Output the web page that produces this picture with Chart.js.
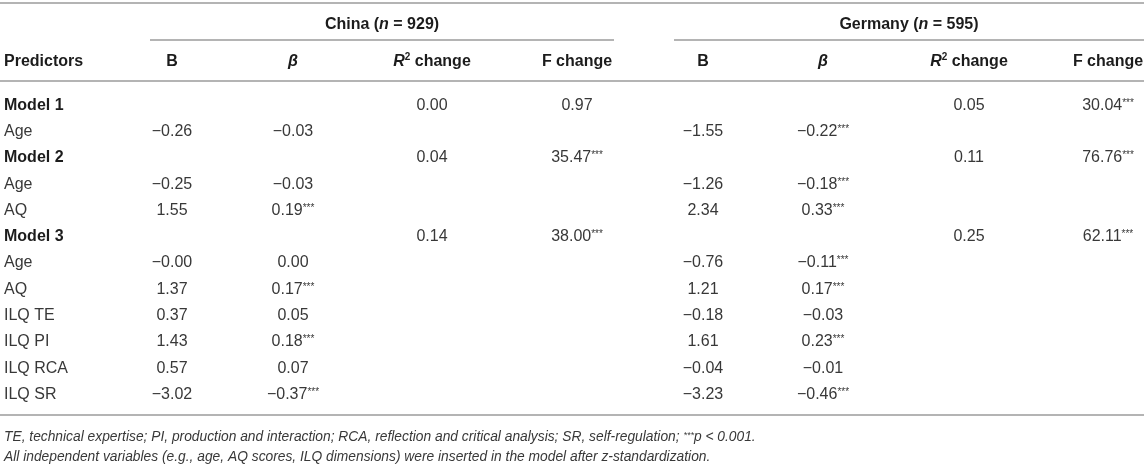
<!DOCTYPE html>
<html>
<head>
<meta charset="utf-8">
<script src="https://cdn.jsdelivr.net/npm/chart.js@4.4.1/dist/chart.umd.min.js"></script>
<style>
    html, body { margin: 0; padding: 0; background: #fff; }
    #wrap { width: 1144px; height: 465px; }
</style>
</head>
<body>
<div id="wrap"><canvas id="regTable" width="1144" height="465"></canvas></div>
<script>
// Table data (row order follows the predictors list)
const predictors = ['Model 1', 'Age', 'Model 2', 'Age', 'AQ', 'Model 3', 'Age', 'AQ', 'ILQ TE', 'ILQ PI', 'ILQ RCA', 'ILQ SR'];
const modelRows = [0, 2, 5];

const chinaB = [null, -0.26, null, -0.25, 1.55, null, -0, 1.37, 0.37, 1.43, 0.57, -3.02];
const chinaBeta = [null, -0.03, null, -0.03, 0.19, null, 0.00, 0.17, 0.05, 0.18, 0.07, -0.37];
const chinaBetaSig = [4, 7, 9, 11];
const chinaR2 = [0.00, null, 0.04, null, null, 0.14];
const chinaF = [0.97, null, 35.47, null, null, 38.00];
const chinaFSig = [2, 5];

const germanyB = [null, -1.55, null, -1.26, 2.34, null, -0.76, 1.21, -0.18, 1.61, -0.04, -3.23];
const germanyBeta = [null, -0.22, null, -0.18, 0.33, null, -0.11, 0.17, -0.03, 0.23, -0.01, -0.46];
const germanyBetaSig = [1, 3, 4, 6, 7, 9, 11];
const germanyR2 = [0.05, null, 0.11, null, null, 0.25];
const germanyF = [30.04, null, 76.76, null, null, 62.11];
const germanyFSig = [0, 2, 5];

const groupLabels = ['China', 'Germany'];
const groupSizes = [929, 595];

// Layout: column centres in px, vertical positions in row units
const COL = { pred: 4, cB: 172, cBeta: 293, cR2: 432, cF: 577, gB: 703, gBeta: 823, gR2: 969, gF: 1108 };
const GROUP_SPAN = [[150, 614], [674, 1144]];
const Y = { min: -3.96, max: 13.74, topRule: -3.85, group: -3.08, groupRule: -2.44, head: -1.68, headRule: -0.88, bottomRule: 11.84, note1: 12.64, note2: 13.4 };

const FAMILY = '"Liberation Sans", Arial, Helvetica, sans-serif';
const TEXT = '#383838';
const HEAD = '#1c1c1c';
const RULE = '#b4b4b4';

function fmt(v) {
    const neg = v < 0 || Object.is(v, -0);
    return (neg ? '\u2212' : '') + Math.abs(v).toFixed(2);
}

function cellSegs(v, i, sig) {
    const segs = [{ t: fmt(v) }];
    if (sig && sig.includes(i)) segs.push({ t: '***', sup: true });
    return segs;
}

function column(values, x, sig) {
    const pts = [];
    values.forEach((v, i) => {
        if (v === null || v === undefined) return;
        pts.push({ x: x, y: i, segs: cellSegs(v, i, sig) });
    });
    return { data: pts, align: 'center' };
}

const predColumn = {
    data: predictors.map((p, i) => ({ x: COL.pred, y: i, segs: [{ t: p, bold: modelRows.includes(i), color: modelRows.includes(i) ? HEAD : TEXT }] })),
    align: 'left'
};

const columns = [
    predColumn,
    column(chinaB, COL.cB),
    column(chinaBeta, COL.cBeta, chinaBetaSig),
    column(chinaR2, COL.cR2),
    column(chinaF, COL.cF, chinaFSig),
    column(germanyB, COL.gB),
    column(germanyBeta, COL.gBeta, germanyBetaSig),
    column(germanyR2, COL.gR2),
    column(germanyF, COL.gF, germanyFSig)
];

function font(seg, size) {
    return (seg.italic ? 'italic ' : '') + (seg.bold ? 'bold ' : '') + size + 'px ' + FAMILY;
}

// Draws a run of styled segments; y is the visual middle of the line
function drawRich(ctx, segs, x, y, align, base) {
    const size = base || 16;
    const supSize = Math.round(size * 0.62);
    const widths = segs.map(s => {
        ctx.font = font(s, s.sup ? supSize : size);
        return ctx.measureText(s.t).width;
    });
    const total = widths.reduce((a, b) => a + b, 0);
    let cx = align === 'center' ? x - total / 2 : x;
    const baseline = y + size * 0.36;
    segs.forEach((s, k) => {
        ctx.font = font(s, s.sup ? supSize : size);
        ctx.fillStyle = s.color || TEXT;
        ctx.textBaseline = 'alphabetic';
        ctx.textAlign = 'left';
        ctx.fillText(s.t, cx, baseline - (s.sup ? (s.t === '2' ? size * 0.38 : size * 0.25) : 0));
        cx += widths[k];
    });
}

const tablePlugin = {
    id: 'tablePlugin',
    afterDatasetsDraw(chart) {
        const { ctx, scales: { x, y } } = chart;
        const px = v => x.getPixelForValue(v);
        const py = v => y.getPixelForValue(v);
        ctx.save();

        // horizontal rules
        ctx.strokeStyle = RULE;
        ctx.lineWidth = 2;
        const rule = (x0, x1, yv) => {
            ctx.beginPath();
            ctx.moveTo(px(x0), Math.round(py(yv)));
            ctx.lineTo(px(x1), Math.round(py(yv)));
            ctx.stroke();
        };
        rule(0, 1144, Y.topRule);
        GROUP_SPAN.forEach(s => rule(s[0], s[1], Y.groupRule));
        rule(0, 1144, Y.headRule);
        rule(0, 1144, Y.bottomRule);

        // group headers
        groupLabels.forEach((g, k) => {
            const mid = (GROUP_SPAN[k][0] + GROUP_SPAN[k][1]) / 2;
            drawRich(ctx, [
                { t: g + ' (', bold: true, color: HEAD },
                { t: 'n', bold: true, italic: true, color: HEAD },
                { t: ' = ' + groupSizes[k] + ')', bold: true, color: HEAD }
            ], px(mid), py(Y.group), 'center');
        });

        // column headers
        const hb = t => ({ t: t, bold: true, color: HEAD });
        drawRich(ctx, [hb('Predictors')], px(COL.pred), py(Y.head), 'left');
        [[COL.cB, COL.cBeta, COL.cR2, COL.cF], [COL.gB, COL.gBeta, COL.gR2, COL.gF]].forEach(c => {
            drawRich(ctx, [hb('B')], px(c[0]), py(Y.head), 'center');
            drawRich(ctx, [{ t: '\u03B2', bold: true, italic: true, color: HEAD }], px(c[1]), py(Y.head), 'center');
            drawRich(ctx, [{ t: 'R', bold: true, italic: true, color: HEAD }, { t: '2', bold: true, sup: true, color: HEAD }, hb(' change')], px(c[2]), py(Y.head), 'center');
            drawRich(ctx, [hb('F change')], px(c[3]), py(Y.head), 'center');
        });

        // body cells, placed at the scatter elements
        chart.data.datasets.forEach((ds, i) => {
            const meta = chart.getDatasetMeta(i);
            meta.data.forEach((pt, j) => {
                drawRich(ctx, ds.data[j].segs, pt.x, pt.y, ds.align);
            });
        });

        // footnotes
        const it = t => ({ t: t, italic: true });
        drawRich(ctx, [
            it('TE, technical expertise; PI, production and interaction; RCA, reflection and critical analysis; SR, self-regulation; '),
            { t: '***', italic: true, sup: true },
            it('p < 0.001.')
        ], px(COL.pred), py(Y.note1), 'left', 13.8);
        drawRich(ctx, [
            it('All independent variables (e.g., age, AQ scores, ILQ dimensions) were inserted in the model after z-standardization.')
        ], px(COL.pred), py(Y.note2), 'left', 13.8);

        ctx.restore();
    }
};

new Chart(document.getElementById('regTable'), {
    type: 'scatter',
    data: {
        datasets: columns.map(c => ({
            data: c.data,
            align: c.align,
            pointRadius: 0,
            pointHoverRadius: 0,
            showLine: false
        }))
    },
    options: {
        responsive: false,
        animation: false,
        events: [],
        layout: { padding: 0 },
        plugins: {
            legend: { display: false },
            tooltip: { enabled: false }
        },
        scales: {
            x: { type: 'linear', display: false, min: 0, max: 1144 },
            y: { type: 'linear', display: false, min: Y.min, max: Y.max, reverse: true }
        }
    },
    plugins: [tablePlugin]
});
</script>
</body>
</html>
